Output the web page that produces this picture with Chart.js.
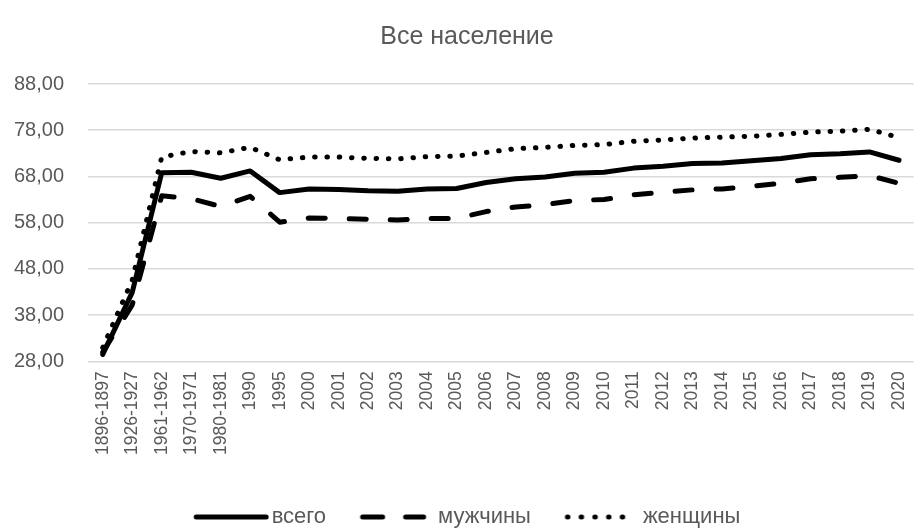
<!DOCTYPE html>
<html>
<head>
<meta charset="utf-8">
<script src="https://cdn.jsdelivr.net/npm/chart.js@4"></script>
<style>
  html, body { margin: 0; padding: 0; background: #fff; }
  #wrap { width: 922px; height: 532px; }
</style>
</head>
<body>
<div id="wrap"><canvas id="lifeChart" width="922" height="532"></canvas></div>
<script>
const periods = ['1896-1897', '1926-1927', '1961-1962', '1970-1971', '1980-1981', '1990', '1995',
    '2000', '2001', '2002', '2003', '2004', '2005', '2006', '2007', '2008', '2009', '2010',
    '2011', '2012', '2013', '2014', '2015', '2016', '2017', '2018', '2019', '2020'];
const total = [29.5, 42.9, 68.8, 68.9, 67.6, 69.2, 64.5, 65.3, 65.2, 64.9, 64.8, 65.3, 65.4, 66.7,
    67.5, 67.9, 68.7, 68.9, 69.8, 70.2, 70.8, 70.9, 71.4, 71.9, 72.7, 72.9, 73.3, 71.5];
const men = [30.0, 40.2, 63.8, 63.2, 61.5, 63.7, 58.1, 59.0, 58.9, 58.7, 58.6, 58.9, 58.9, 60.4,
    61.4, 61.9, 62.8, 63.0, 64.0, 64.6, 65.1, 65.3, 65.9, 66.5, 67.5, 67.8, 68.2, 66.5];
const women = [31.0, 45.6, 72.2, 73.4, 73.1, 74.3, 71.6, 72.2, 72.2, 71.9, 71.8, 72.3, 72.4, 73.2,
    74.0, 74.3, 74.7, 74.9, 75.6, 75.9, 76.3, 76.5, 76.7, 77.1, 77.6, 77.8, 78.2, 76.4];
const yTicks = [28, 38, 48, 58, 68, 78, 88];

const textColor = '#595959';
const gridColor = '#d9d9d9';
const fontFamily = '"Liberation Sans", Arial, sans-serif';

// legend sits lower than chart.js would put it: fix its height
const LegendEl = Chart.Legend && Chart.Legend._element;
if (LegendEl) {
    const origFit = LegendEl.prototype.fit;
    LegendEl.prototype.fit = function () {
        origFit.call(this);
        if (this.isHorizontal()) this.height = 60;
    };
}

// small canvases used as legend symbols (line samples)
function legendSample(dash, len) {
    const c = document.createElement('canvas');
    c.width = 84;
    c.height = 8;
    const g = c.getContext('2d');
    g.strokeStyle = '#000';
    g.lineWidth = 5;
    g.lineCap = 'round';
    g.setLineDash(dash);
    g.beginPath();
    g.moveTo(11, 4);
    g.lineTo(11 + len, 4);
    g.stroke();
    return c;
}

const seriesStyle = [
    { label: 'всего', data: total, dash: [], sample: legendSample([], 70) },
    { label: 'мужчины', data: men, dash: [17, 24], sample: legendSample([20, 23], 61) },
    { label: 'женщины', data: women, dash: [0.5, 11.8], sample: legendSample([0.5, 13.2], 68) }
];

const ctx = document.getElementById('lifeChart').getContext('2d');
new Chart(ctx, {
    type: 'line',
    data: {
        labels: periods,
        datasets: seriesStyle.map(s => ({
            label: s.label,
            data: s.data,
            borderColor: '#000',
            backgroundColor: '#000',
            borderWidth: 5,
            borderDash: s.dash,
            borderCapStyle: 'round',
            borderJoinStyle: 'round',
            pointRadius: 0,
            pointHoverRadius: 0,
            tension: 0
        }))
    },
    options: {
        responsive: false,
        animation: false,
        layout: { padding: { left: 12, right: 0, top: 0, bottom: 0 } },
        scales: {
            x: {
                offset: true,
                grid: { display: false },
                border: { display: false },
                ticks: {
                    color: textColor,
                    font: { family: fontFamily, size: 17.5 },
                    minRotation: 90,
                    maxRotation: 90,
                    autoSkip: false,
                    padding: 2
                },
                afterFit: scale => { scale.height += 15; }
            },
            y: {
                min: 28,
                max: 88,
                afterBuildTicks: axis => { axis.ticks = yTicks.map(v => ({ value: v })); },
                grid: { color: gridColor, lineWidth: 1.5, drawTicks: false },
                border: { display: false },
                ticks: {
                    color: textColor,
                    font: { family: fontFamily, size: 20 },
                    padding: 24,
                    callback: v => v.toFixed(2).replace('.', ',')
                },
                afterFit: scale => { scale.width = 76; }
            }
        },
        plugins: {
            title: {
                display: true,
                text: 'Все население',
                color: textColor,
                font: { family: fontFamily, size: 25, weight: 'normal' },
                padding: { top: 22, bottom: 32 }
            },
            legend: {
                position: 'bottom',
                labels: {
                    color: textColor,
                    font: { family: fontFamily, size: 22 },
                    usePointStyle: true,
                    pointStyleWidth: 67,
                    boxHeight: 8,
                    padding: 34,
                    generateLabels: chart => Chart.defaults.plugins.legend.labels.generateLabels(chart)
                        .map((item, i) => Object.assign(item, { pointStyle: seriesStyle[i].sample }))
                }
            },
            tooltip: { enabled: false }
        }
    }
});
</script>
</body>
</html>
